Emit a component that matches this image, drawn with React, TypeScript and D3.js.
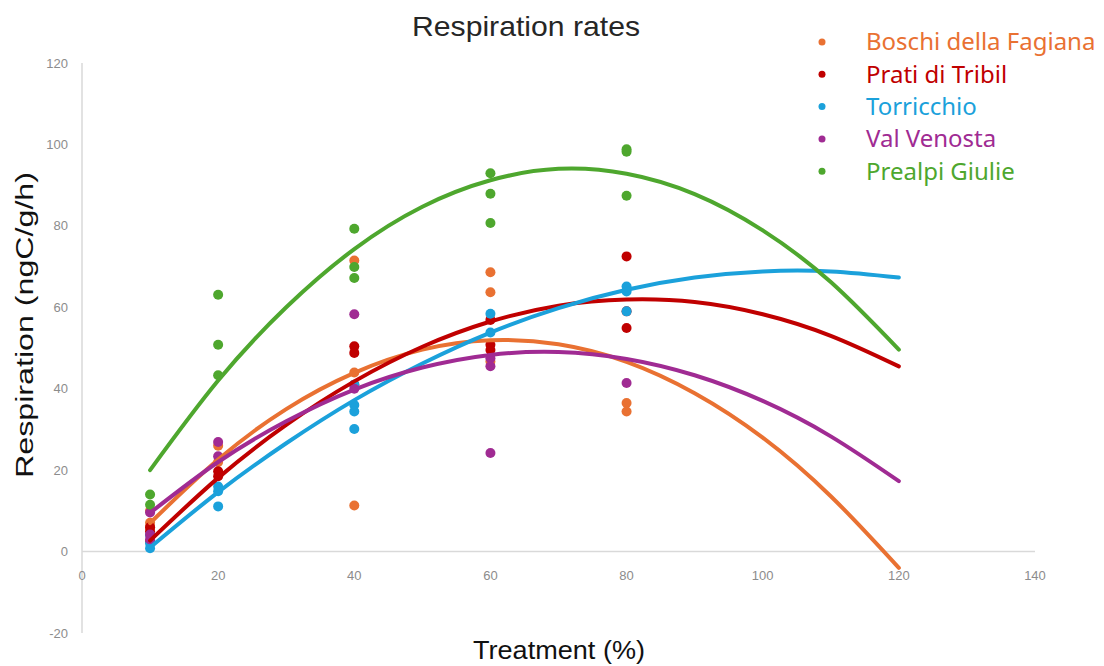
import React, { useEffect, useRef } from 'react'
import * as d3 from 'd3'

// treatment levels where samples were taken
const treatments = [10, 20, 40, 60, 80]

// replicate measurements per treatment (ngC/g/h)
const boschi = [[10, 7.1, 6], [26, 22], [71.5, 44, 11.3], [68.6, 63.7, 46.7], [36.5, 34.4]]
const prati = [[6, 5, 2.5], [19.7, 18.5], [50.4, 48.8, 41], [56.9, 50.8, 49.5], [72.5, 59, 54.9]]
const torricchio = [[4, 2, 0.8], [16, 14.8, 11.1], [41, 36, 34.4, 30.1], [58.4, 53.8], [65.1, 63.9, 59]]
const valVenosta = [[9.6, 4.2, 3], [26.9, 23.4], [58.3, 40], [47.5, 45.5, 24.2], [41.4]]
const prealpi = [[14, 11.5], [63.1, 50.8, 43.3], [79.3, 69.9, 67.2], [92.9, 87.9, 80.7], [98.8, 98.2, 87.4]]

// polynomial trendline at these x values
const curveX = [10, 20, 30, 40, 50, 60, 70, 80, 90, 100, 110, 120]
const boschiFit = [7.0, 22.6, 35.0, 43.9, 49.6, 51.9, 50.9, 46.6, 38.9, 28.0, 13.6, -4.0]
const pratiFit = [2.7, 18.1, 31.1, 41.8, 50.3, 56.5, 60.4, 61.9, 61.3, 58.3, 53.0, 45.5]
const torricchioFit = [1.0, 14.6, 26.6, 37.2, 46.2, 53.8, 59.8, 64.3, 67.3, 68.8, 68.8, 67.3]
const valVenostaFit = [9.5, 22.0, 32.0, 39.8, 45.2, 48.3, 49.0, 47.3, 43.3, 37.0, 28.3, 17.3]
const prealpiFit = [20.0, 42.0, 60.0, 74.3, 84.7, 91.2, 94.0, 92.8, 87.8, 78.9, 66.2, 49.6]

const siteNames = ['Boschi della Fagiana', 'Prati di Tribil', 'Torricchio', 'Val Venosta', 'Prealpi Giulie']
const siteColors = ['#E97132', '#C00000', '#1BA1DB', '#A02B93', '#4EA72E']

const xTicks = [0, 20, 40, 60, 80, 100, 120, 140]
const yTicks = [-20, 0, 20, 40, 60, 80, 100, 120]

const sites = [
  { name: siteNames[0], color: siteColors[0], pts: boschi, fit: boschiFit },
  { name: siteNames[1], color: siteColors[1], pts: prati, fit: pratiFit },
  { name: siteNames[2], color: siteColors[2], pts: torricchio, fit: torricchioFit },
  { name: siteNames[3], color: siteColors[3], pts: valVenosta, fit: valVenostaFit },
  { name: siteNames[4], color: siteColors[4], pts: prealpi, fit: prealpiFit },
]

export default function App() {
  const ref = useRef<SVGSVGElement>(null)

  useEffect(() => {
    const width = 1104, height = 666
    const svg = d3.select(ref.current)
    svg.selectAll('*').remove()

    const x = d3.scaleLinear().domain([0, 140]).range([82, 1035])
    const y = d3.scaleLinear().domain([-20, 120]).range([633, 63])

    // axis lines
    svg.append('line')
      .attr('x1', x(0)).attr('x2', x(0))
      .attr('y1', y(120)).attr('y2', y(-20))
      .attr('stroke', '#d9d9d9').attr('stroke-width', 1.5)
    svg.append('line')
      .attr('x1', x(0)).attr('x2', x(140))
      .attr('y1', y(0)).attr('y2', y(0))
      .attr('stroke', '#d9d9d9').attr('stroke-width', 1.5)

    const tickFont = 'Liberation Sans, Arial, sans-serif'
    svg.append('g').selectAll('text')
      .data(yTicks).enter().append('text')
      .attr('x', 68).attr('y', d => y(d))
      .attr('dy', '0.35em')
      .attr('text-anchor', 'end')
      .attr('font-family', tickFont).attr('font-size', 13)
      .attr('fill', '#8c8c8c')
      .text(d => d)

    svg.append('g').selectAll('text')
      .data(xTicks).enter().append('text')
      .attr('x', d => x(d)).attr('y', 575)
      .attr('dy', '0.35em')
      .attr('text-anchor', 'middle')
      .attr('font-family', tickFont).attr('font-size', 13)
      .attr('fill', '#8c8c8c')
      .text(d => d)

    // trendlines
    const line = d3.line<number>()
      .x((d, i) => x(curveX[i]))
      .y(d => y(d))
      .curve(d3.curveNatural)

    // scatter points under the lines
    sites.forEach(s => {
      const flat: [number, number][] = []
      s.pts.forEach((vals, i) => vals.forEach(v => flat.push([treatments[i], v])))
      svg.append('g').selectAll('circle')
        .data(flat).enter().append('circle')
        .attr('cx', d => x(d[0])).attr('cy', d => y(d[1]))
        .attr('r', 5)
        .attr('fill', s.color)
    })

    sites.forEach(s => {
      svg.append('path')
        .datum(s.fit)
        .attr('d', line)
        .attr('fill', 'none')
        .attr('stroke', s.color)
        .attr('stroke-width', 4)
        .attr('stroke-linecap', 'round')
    })

    // title and axis titles
    svg.append('text')
      .attr('x', 526).attr('y', 36)
      .attr('text-anchor', 'middle')
      .attr('font-family', 'Liberation Sans, Arial, sans-serif')
      .attr('font-size', 28).attr('fill', '#262626')
      .attr('textLength', 228).attr('lengthAdjust', 'spacingAndGlyphs')
      .text('Respiration rates')

    svg.append('text')
      .attr('transform', `translate(33,325) rotate(-90)`)
      .attr('text-anchor', 'middle')
      .attr('font-family', 'Liberation Sans, Arial, sans-serif')
      .attr('font-size', 23).attr('fill', '#111')
      .attr('textLength', 306).attr('lengthAdjust', 'spacingAndGlyphs')
      .text('Respiration (ngC/g/h)')

    svg.append('text')
      .attr('x', 559).attr('y', 659)
      .attr('text-anchor', 'middle')
      .attr('font-family', 'Liberation Sans, Arial, sans-serif')
      .attr('font-size', 26).attr('fill', '#111')
      .attr('textLength', 172).attr('lengthAdjust', 'spacingAndGlyphs')
      .text('Treatment (%)')

    // legend
    const leg = svg.append('g')
    sites.forEach((s, i) => {
      const ly = 42 + i * 32.3
      leg.append('circle')
        .attr('cx', 822).attr('cy', ly).attr('r', 3.5)
        .attr('fill', s.color)
      leg.append('text')
        .attr('x', 866).attr('y', ly).attr('dy', '0.35em')
        .attr('font-family', 'Noto Sans, sans-serif')
        .attr('font-size', 24)
        .attr('fill', s.color)
        .text(s.name)
    })

    svg.attr('width', width).attr('height', height)
  }, [])

  return (
    <svg ref={ref} width={1104} height={666}
      style={{ position: 'absolute', left: 0, top: 0, background: '#fff' }} />
  )
}
